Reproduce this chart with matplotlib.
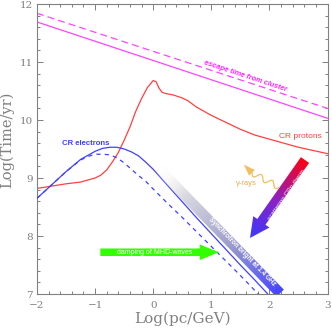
import numpy as np
import matplotlib
matplotlib.use('Agg')
import matplotlib.pyplot as plt
from matplotlib.colors import LinearSegmentedColormap
from matplotlib.patches import Polygon

plt.rcParams['lines.scale_dashes'] = False

# ---------------- data ----------------
x_esc = [-2.0, 3.0]
esc_solid = [11.69, 10.03]
esc_dash = [11.84, 10.20]

x_p = [-2.0, -1.75, -1.5, -1.25, -1.0, -0.9, -0.8, -0.7, -0.6, -0.5, -0.4, -0.3, -0.2, -0.1,
       0.0, 0.05, 0.1, 0.15, 0.2, 0.35, 0.5, 0.6, 0.75, 1.0, 1.25, 1.5, 1.75, 2.0, 2.5, 3.0]
protons = [8.82, 8.86, 8.90, 8.93, 9.00, 9.05, 9.14, 9.28, 9.44, 9.65, 9.88, 10.15, 10.37, 10.56,
           10.68, 10.66, 10.55, 10.48, 10.46, 10.43, 10.38, 10.33, 10.22, 10.08, 9.96, 9.84, 9.74, 9.67, 9.53, 9.42]

x_e = [-2.0, -1.75, -1.5, -1.25, -1.0, -0.875, -0.75, -0.625, -0.5, -0.375, -0.25, -0.125,
       0.0, 0.25, 0.5, 0.75, 1.0, 1.25, 1.5, 1.75, 2.0]
e_solid = [8.65, 8.88, 9.11, 9.32, 9.46, 9.51, 9.53, 9.53, 9.50, 9.45, 9.38, 9.27,
           9.15, 8.87, 8.59, 8.31, 8.04, 7.77, 7.50, 7.24, 6.97]

x_ed = [-2.0, -1.75, -1.5, -1.25, -1.125, -1.0, -0.875, -0.75, -0.625, -0.5, -0.375, -0.25, -0.125,
        0.0, 0.25, 0.5, 0.75, 1.0, 1.25, 1.5, 1.75, 1.9]
e_dash = [8.65, 8.88, 9.11, 9.31, 9.37, 9.41, 9.41, 9.40, 9.35, 9.26, 9.15, 9.04, 8.94,
          8.81, 8.56, 8.32, 8.07, 7.82, 7.57, 7.32, 7.06, 6.91]

x_ticks = [-2, -1, 0, 1, 2, 3]
y_ticks = [7, 8, 9, 10, 11, 12]

# ---------------- styles ----------------
GREY = '#808080'
MAG = '#ff44ff'
RED = '#ff4040'
BLUE = '#4040ff'
SANS = ['Liberation Sans', 'DejaVu Sans']


def gradient_fill(ax, verts, p0, p1, colors, z):
    verts = np.asarray(verts)
    xmin, ymin = verts.min(0)
    xmax, ymax = verts.max(0)
    xs = np.linspace(xmin, xmax, 300)
    ys = np.linspace(ymin, ymax, 300)
    X, Y = np.meshgrid(xs, ys)
    d = np.array(p1) - np.array(p0)
    t = ((X - p0[0]) * d[0] + (Y - p0[1]) * d[1]) / (d @ d)
    t = np.clip(t, 0, 1)
    cmap = LinearSegmentedColormap.from_list('g', colors)
    im = ax.imshow(t, extent=(xmin, xmax, ymin, ymax), origin='lower', cmap=cmap,
                   vmin=0, vmax=1, aspect='auto', zorder=z, interpolation='bilinear')
    poly = Polygon(verts, closed=True, facecolor='none', edgecolor='none',
                   transform=ax.transData)
    ax.add_patch(poly)
    im.set_clip_path(poly)
    return im


fig = plt.figure(figsize=(3.32, 3.32), dpi=100)
ax = fig.add_axes([37 / 332, 38 / 332, 290.5 / 332, 290 / 332])

# lines
l, = ax.plot(x_esc, esc_dash, color=MAG, lw=0.9)
l.set_dashes((5, 3))
ax.plot(x_esc, esc_solid, color=MAG, lw=0.9)
ax.plot(x_p, protons, color=RED, lw=0.9)
ax.plot(x_e, e_solid, color=BLUE, lw=0.9, zorder=3)
l, = ax.plot(x_ed, e_dash, color=BLUE, lw=0.9)
l.set_dashes((3, 3))

# synchrotron band
n = np.array([1.03, 1.0]); n = n / np.linalg.norm(n)
hw = 0.09
c0 = np.array([0.0, 9.13]) + n * hw
c1 = np.array([2.12, 6.95]) + n * hw
band = [c0 - n * hw, c1 - n * hw, c1 + n * hw, c0 + n * hw]
gradient_fill(ax, band, c0, c1,
              [(0.0, (1, 1, 1, 0)), (0.22, (0.86, 0.86, 0.88, 1)),
               (0.6, (0.62, 0.62, 0.8, 1)), (1.0, (0.27, 0.27, 1.0, 1))], 4)
ang = np.degrees(np.arctan2(c1[1] - c0[1], c1[0] - c0[0]))
ax.text(1.52, 7.73, 'Synchrotron bright at 1.4 GHz', rotation=ang, rotation_mode='anchor',
        ha='center', va='center', color='white', fontsize=4.7, fontweight='bold',
        family=SANS, zorder=6)

# scattering arrow
S = np.array([2.613, 9.31]); T = np.array([1.666, 7.966])
u = (T - S) / np.linalg.norm(T - S)
v = np.array([-u[1], u[0]])
bw, hh, hl = 0.086, 0.17, 0.34
B = T - u * hl
arrow = [S + v * bw, B + v * bw, B + v * hh, T, B - v * hh, B - v * bw, S - v * bw]
gradient_fill(ax, arrow, S, T, [(0.0, '#ff0010'), (0.5, '#9020c0'), (1.0, '#3a3aff')], 4)
ax.text(2.29, 8.72, 'scattering CRp-therm', rotation=54.8, rotation_mode='anchor',
        ha='center', va='center', color='white', fontsize=4.6, family=SANS, zorder=6)

# damping arrow
gy = 7.72
green = [(-0.91, gy - 0.065), (0.80, gy - 0.065), (0.80, gy - 0.135), (1.13, gy),
         (0.80, gy + 0.135), (0.80, gy + 0.065), (-0.91, gy + 0.065)]
ax.add_patch(Polygon(green, closed=True, facecolor='#33ff00', edgecolor='none', zorder=4))
ax.text(0.03, gy, 'damping of MHD-waves', ha='center', va='center', color='white',
        fontsize=5.0, family=SANS, zorder=6)

# gamma-ray wiggle
A = np.array([2.17, 8.84]); Bw = np.array([1.70, 9.09])
s = np.linspace(0, 1, 200)
dw = Bw - A
pw = np.array([-dw[1], dw[0]]) / np.linalg.norm(dw)
wx = A[0] + s * dw[0] + pw[0] * 0.05 * np.sin(2 * np.pi * 2.5 * s)
wy = A[1] + s * dw[1] + pw[1] * 0.05 * np.sin(2 * np.pi * 2.5 * s)
GOLD = '#eec060'
ax.plot(wx, wy, color=GOLD, lw=0.9, zorder=4)
tip = np.array([1.56, 9.23])
ua = (tip - Bw) / np.linalg.norm(tip - Bw)
va = np.array([-ua[1], ua[0]])
ax.add_patch(Polygon([tip, Bw + va * 0.07, Bw - va * 0.07], closed=True,
                     facecolor=GOLD, edgecolor='none', zorder=4))
ax.text(1.61, 8.91, 'γ-rays', ha='center', va='center', color='#e0b040', fontsize=5.5,
        family=SANS, zorder=6)

# labels
ax.text(1.58, 10.75, 'escape time from cluster', rotation=-18.3, rotation_mode='anchor',
        ha='center', va='center', color='#ff22ff', fontsize=5.3, fontweight='bold',
        style='italic', family=SANS, zorder=6)
ax.text(2.53, 9.71, 'CR protons', ha='center', va='center', color=RED, fontsize=6.0,
        family=SANS, zorder=6)
ax.text(-1.17, 9.60, 'CR electrons', ha='center', va='center', color=BLUE, fontsize=5.6,
        fontweight='bold', family=SANS, zorder=6)

# axes
ax.set_xlim(-2, 3)
ax.set_ylim(7, 12)
ax.set_xticks(x_ticks)
ax.set_yticks(y_ticks)
ax.set_xticks(np.arange(-2, 3.01, 0.2), minor=True)
ax.set_yticks(np.arange(7, 12.01, 0.2), minor=True)
ax.tick_params(which='both', direction='in', top=True, right=True, color=GREY,
               width=0.7, labelcolor=GREY, labelsize=7.5)
ax.tick_params(which='major', length=4.5)
ax.tick_params(which='minor', length=2.2)
ax.tick_params(axis='x', pad=5)
ax.tick_params(axis='y', pad=3)
for lab in ax.get_xticklabels() + ax.get_yticklabels():
    lab.set_family('DejaVu Serif')
for sp in ax.spines.values():
    sp.set_color(GREY)
    sp.set_linewidth(0.8)
ax.set_xlabel('Log(pc/GeV)', family='DejaVu Serif', fontsize=11, color=GREY)
ax.set_ylabel('Log(Time/yr)', family='DejaVu Serif', fontsize=10.5, color=GREY)
ax.xaxis.set_label_coords(0.5, -0.062)
ax.yaxis.set_label_coords(-0.08, 0.53)

fig.savefig('out.png', dpi=100)
